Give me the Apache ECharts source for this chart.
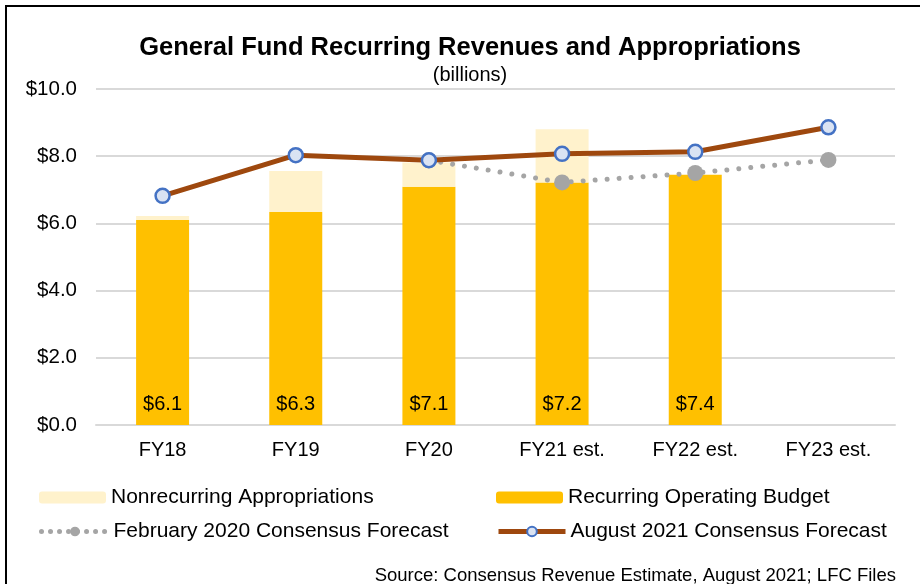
<html>
<head>
  <meta charset="utf-8">
  <title>General Fund</title>
  <script src="https://cdn.jsdelivr.net/npm/echarts@6/dist/echarts.min.js"></script>
</head>
<body style="margin:0;background:#fff;">
<div id="main" style="width:920px;height:584px;"></div>
<script>
  var categories = ['FY18', 'FY19', 'FY20', 'FY21 est.', 'FY22 est.', 'FY23 est.'];
  var recurring = [6.1, 6.34, 7.09, 7.22, 7.45, null];
  var nonrecurring = [0.12, 1.22, 0.72, 1.58, 0, null];
  var feb2020 = [null, null, 7.88, 7.22, 7.5, 7.89];
  var aug2021 = [6.82, 8.03, 7.88, 8.07, 8.13, 8.86];
  var barLabels = ['$6.1', '$6.3', '$7.1', '$7.2', '$7.4', ''];

  var font = 'Liberation Sans, Arial, sans-serif';
  var myChart = echarts.init(document.getElementById('main'));

  function legendAt(name, left, top, lineStyle) {
    var l = {
      data: [name], left: left, top: top, itemWidth: 67, itemHeight: 12, itemGap: 6,
      textStyle: { fontFamily: font, fontSize: 21, color: '#000' }
    };
    if (lineStyle) l.lineStyle = lineStyle;
    return l;
  }

  option = {
    animation: false,
    textStyle: { fontFamily: font },
    title: [
      { text: 'General Fund Recurring Revenues and Appropriations', left: 465, top: 30, textAlign: 'center',
        textStyle: { fontFamily: font, fontSize: 25.5, fontWeight: 'bold', color: '#000' } },
      { text: '(billions)', left: 465, top: 60, textAlign: 'center',
        textStyle: { fontFamily: font, fontSize: 20, fontWeight: 'normal', color: '#000' } },
      { text: 'Source: Consensus Revenue Estimate, August 2021; LFC Files', right: 19, top: 561,
        textStyle: { fontFamily: font, fontSize: 18.5, fontWeight: 'normal', color: '#000' } }
    ],
    graphic: [
      { type: 'rect', shape: { x: 6, y: 6, width: 930, height: 600 },
        style: { fill: 'none', stroke: '#000', lineWidth: 2 }, silent: true }
    ],
    legend: [
      legendAt('Nonrecurring Appropriations', 34, 482),
      legendAt('Recurring Operating Budget', 491, 482),
      legendAt('February 2020 Consensus Forecast', 34, 516, { width: 5, type: [0.01, 9], cap: 'round' }),
      legendAt('August 2021 Consensus Forecast', 491, 516, { width: 5 })
    ],
    grid: { left: 96, right: 25, top: 89, bottom: 159 },
    xAxis: {
      type: 'category',
      data: categories,
      axisTick: { show: false },
      axisLine: { lineStyle: { color: '#D9D9D9', width: 2 } },
      axisLabel: { color: '#000', fontSize: 20, fontFamily: font, margin: 15 }
    },
    yAxis: {
      type: 'value',
      min: 0, max: 10, interval: 2,
      axisLabel: { color: '#000', fontSize: 20.5, fontFamily: font, margin: 19,
        formatter: function (v) { return '$' + v.toFixed(1); } },
      splitLine: { lineStyle: { color: '#D9D9D9', width: 2 } }
    },
    series: [
      {
        name: 'Recurring Operating Budget', type: 'bar', stack: 'b', barWidth: 53,
        itemStyle: { color: '#FFC000' },
        label: { show: true, position: 'insideBottom', distance: 11, color: '#000', fontSize: 20,
          fontFamily: font, formatter: function (p) { return barLabels[p.dataIndex]; } },
        data: recurring
      },
      {
        name: 'Nonrecurring Appropriations', type: 'bar', stack: 'b', barWidth: 53,
        itemStyle: { color: '#FFF2CC' },
        data: nonrecurring
      },
      {
        name: 'February 2020 Consensus Forecast', type: 'line', z: 3,
        symbol: 'circle', symbolSize: 16,
        itemStyle: { color: '#A5A5A5' },
        lineStyle: { color: '#A5A5A5', width: 5, type: [0.01, 12], cap: 'round' },
        data: feb2020
      },
      {
        name: 'August 2021 Consensus Forecast', type: 'line', z: 4,
        symbol: 'circle', symbolSize: 14,
        itemStyle: { color: '#DAE3F3', borderColor: '#4472C4', borderWidth: 2.5 },
        lineStyle: { color: '#9E480E', width: 5 },
        data: aug2021
      }
    ]
  };

  myChart.setOption(option);
</script>
</body>
</html>
